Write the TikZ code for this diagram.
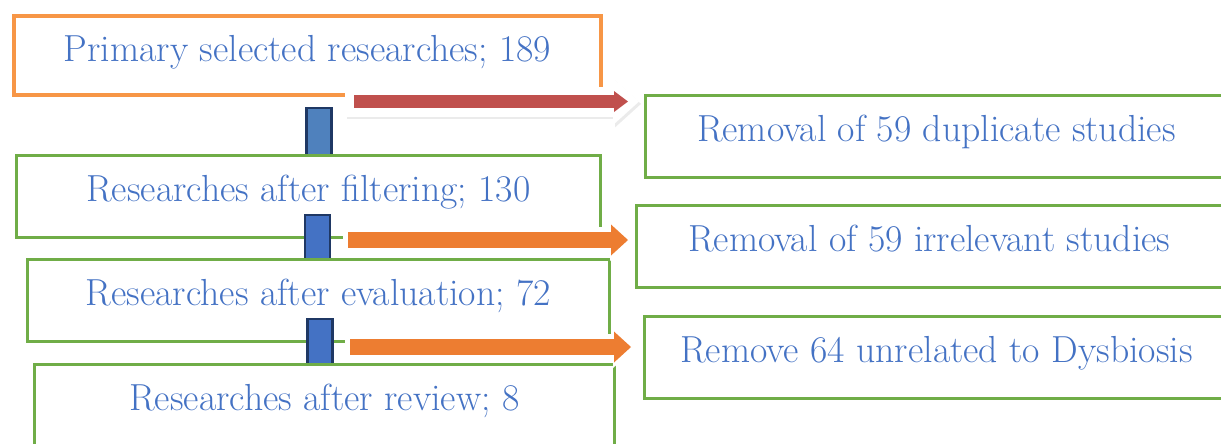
\documentclass[tikz,border=0pt]{standalone}
\usepackage{fontspec}
\usepackage{xcolor}
\usetikzlibrary{arrows.meta}
\definecolor{txtblue}{HTML}{4472C4}
\definecolor{boxgreen}{HTML}{70AD47}
\definecolor{boxorange}{HTML}{F79646}
\definecolor{arrorange}{HTML}{ED7D31}
\definecolor{arrred}{HTML}{C0504D}
\definecolor{linkblue}{HTML}{4472C4}
\definecolor{linksteel}{HTML}{4F81BD}
\definecolor{linknavy}{HTML}{1F3864}

\begin{document}
\begin{tikzpicture}[x=0.025cm, y=-0.025cm,
    every node/.style={font=\rmfamily\fontsize{26.8}{32}\selectfont, text=txtblue},
    stage/.style={draw=boxgreen, line width=1.8pt, fill=white, anchor=north west,
        inner ysep=0pt, text height=1.15cm, text depth=0.9cm},
    link/.style={draw=linknavy, fill=linkblue, line width=2.1pt, anchor=north,
        inner sep=0pt, minimum width=0.625cm},
    orangearr/.style={draw=arrorange, line width=0.4cm,
        -{Triangle[length=0.425cm, width=0.775cm, line width=0pt]}},
    orangeedge/.style={draw=white, line width=0.65cm, shorten <=-0.125cm, shorten >=-0.15cm,
        -{Triangle[length=0.6cm, width=1.05cm, line width=0pt]}},
    redarr/.style={draw=arrred, line width=0.325cm,
        -{Triangle[length=0.35cm, width=0.525cm, line width=0pt]}},
    rededge/.style={line width=0.75cm, shorten <=-0.225cm, shorten >=-0.275cm,
        -{Triangle[length=0.65cm, width=1.175cm, line width=0pt]}}]
    \clip (0,0) rectangle (1221,443);
    % Left column
    \node[stage, draw=boxorange, line width=2.8pt, minimum width=14.675cm,
        text height=1.15cm, text depth=0.825cm] (prim) at (12,14) {Primary selected researches; 189};
    \node[link, fill=linksteel, minimum height=1.35cm] (c1) at (319,106.5) {};
    \node[stage, minimum width=14.6cm] (filt) at (15,154) {Researches after filtering; 130};
    \node[link, minimum height=1.3cm] (c2) at (317.5,213.5) {};
    \node[stage, minimum width=14.55cm] (eval) at (26,258) {Researches after evaluation; 72};
    \node[link, minimum height=1.35cm] (c3) at (320,317.5) {};
    \node[stage, minimum width=14.5cm] (rev) at (33,363) {Researches after review; 8};
    % Right column
    \node[stage, minimum width=14.55cm] (rem1) at (644,94) {Removal of 59 duplicate studies};
    \node[stage, minimum width=14.65cm] (rem2) at (635,204) {Removal of 59 irrelevant studies};
    \node[stage, minimum width=14.6cm] (rem3) at (643,315) {Remove 64 unrelated to Dysbiosis};
    % Block arrows
    \coordinate (r0) at (354,101.5);
    \coordinate (o1) at (348,240);
    \coordinate (o2) at (350,347);
    \draw[rededge, draw=black, opacity=0.08, transform canvas={xshift=0.05cm, yshift=-0.06cm}]
        (r0) -- ([xshift=-0.4cm]r0 -| rem1.west);
    \draw[rededge, draw=white] (r0) -- ([xshift=-0.4cm]r0 -| rem1.west);
    \draw[redarr] (r0) -- ([xshift=-0.4cm]r0 -| rem1.west);
    \draw[orangeedge] (o1) -- ([xshift=-0.175cm]o1 -| rem2.west);
    \draw[orangearr] (o1) -- ([xshift=-0.175cm]o1 -| rem2.west);
    \draw[orangeedge] (o2) -- ([xshift=-0.3cm]o2 -| rem3.west);
    \draw[orangearr] (o2) -- ([xshift=-0.3cm]o2 -| rem3.west);
\end{tikzpicture}
\end{document}
